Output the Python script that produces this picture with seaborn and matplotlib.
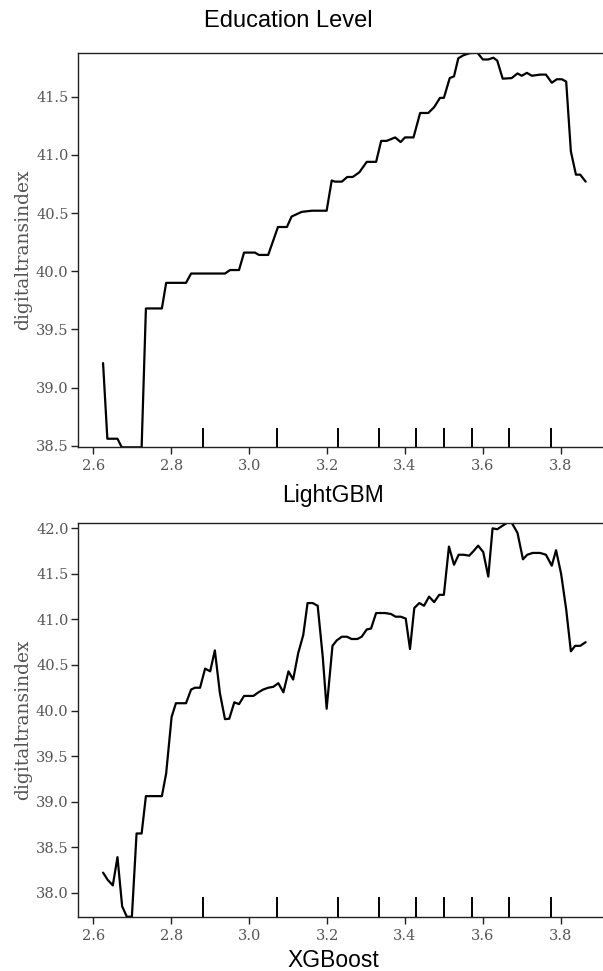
import seaborn as sns
import pandas as pd
import matplotlib.pyplot as plt

# partial dependence of digitaltransindex on education level
lgb_x = [2.625, 2.636, 2.662, 2.673, 2.724, 2.735, 2.776, 2.787, 2.838, 2.851,
         2.938, 2.951, 2.974, 2.987, 3.015, 3.025, 3.049, 3.074, 3.097, 3.109,
         3.135, 3.161, 3.199, 3.212, 3.220, 3.238, 3.252, 3.266, 3.283, 3.302,
         3.326, 3.339, 3.353, 3.375, 3.389, 3.400, 3.422, 3.439, 3.460, 3.475,
         3.490, 3.500, 3.515, 3.526, 3.537, 3.550, 3.567, 3.586, 3.600, 3.614,
         3.627, 3.637, 3.651, 3.674, 3.689, 3.700, 3.713, 3.726, 3.747, 3.762,
         3.777, 3.790, 3.803, 3.814, 3.826, 3.839, 3.850, 3.864]
lgb_y = [39.21, 38.56, 38.56, 38.486, 38.486, 39.68, 39.68, 39.90, 39.90, 39.98,
         39.98, 40.01, 40.01, 40.16, 40.16, 40.14, 40.14, 40.38, 40.38, 40.47,
         40.51, 40.52, 40.52, 40.78, 40.77, 40.77, 40.81, 40.81, 40.85, 40.94,
         40.94, 41.12, 41.12, 41.15, 41.11, 41.15, 41.15, 41.36, 41.36, 41.41,
         41.49, 41.49, 41.66, 41.675, 41.83, 41.856, 41.875, 41.878, 41.82, 41.82,
         41.835, 41.81, 41.655, 41.66, 41.70, 41.68, 41.705, 41.68, 41.69, 41.69,
         41.62, 41.65, 41.65, 41.63, 41.03, 40.83, 40.83, 40.77]

xgb_x = [2.625, 2.637, 2.650, 2.662, 2.674, 2.686, 2.699, 2.711, 2.724, 2.735,
         2.776, 2.787, 2.801, 2.812, 2.838, 2.851, 2.861, 2.874, 2.887, 2.900,
         2.912, 2.925, 2.938, 2.949, 2.962, 2.974, 2.987, 3.011, 3.024, 3.036,
         3.049, 3.062, 3.075, 3.088, 3.101, 3.113, 3.126, 3.139, 3.150, 3.163,
         3.176, 3.189, 3.199, 3.214, 3.225, 3.238, 3.251, 3.263, 3.278, 3.289,
         3.302, 3.313, 3.326, 3.349, 3.364, 3.376, 3.389, 3.402, 3.413, 3.424,
         3.437, 3.449, 3.462, 3.475, 3.488, 3.500, 3.513, 3.526, 3.538, 3.551,
         3.565, 3.576, 3.588, 3.601, 3.614, 3.625, 3.637, 3.651, 3.663, 3.674,
         3.689, 3.703, 3.714, 3.728, 3.747, 3.762, 3.777, 3.788, 3.801, 3.814,
         3.826, 3.837, 3.850, 3.864]
xgb_y = [38.22, 38.14, 38.08, 38.39, 37.85, 37.736, 37.736, 38.65, 38.65, 39.06,
         39.06, 39.31, 39.93, 40.08, 40.08, 40.23, 40.25, 40.25, 40.46, 40.43,
         40.66, 40.19, 39.905, 39.91, 40.09, 40.07, 40.16, 40.16, 40.20, 40.23,
         40.25, 40.26, 40.30, 40.20, 40.43, 40.34, 40.63, 40.83, 41.18, 41.18,
         41.15, 40.59, 40.02, 40.71, 40.77, 40.81, 40.81, 40.785, 40.785, 40.81,
         40.89, 40.90, 41.07, 41.07, 41.06, 41.03, 41.03, 41.01, 40.675, 41.125,
         41.18, 41.15, 41.25, 41.19, 41.27, 41.27, 41.80, 41.60, 41.71, 41.71,
         41.70, 41.75, 41.81, 41.74, 41.47, 42.00, 41.99, 42.03, 42.062, 42.062,
         41.95, 41.66, 41.71, 41.73, 41.73, 41.71, 41.59, 41.76, 41.50, 41.11,
         40.65, 40.71, 40.71, 40.75]

deciles = [2.882, 3.072, 3.228, 3.334, 3.429, 3.501, 3.573, 3.668, 3.775]
xticks = [2.6, 2.8, 3.0, 3.2, 3.4, 3.6, 3.8]
lgb_yticks = [38.5, 39.0, 39.5, 40.0, 40.5, 41.0, 41.5]
xgb_yticks = [38.0, 38.5, 39.0, 39.5, 40.0, 40.5, 41.0, 41.5, 42.0]

sns.set_style("ticks")
plt.rcParams["font.family"] = ["Liberation Sans", "DejaVu Sans"]
plt.rcParams["axes.edgecolor"] = "#222222"
plt.rcParams["axes.linewidth"] = 1.0

fig = plt.figure(figsize=(6.03, 9.71), dpi=100)
ax1 = fig.add_axes([0.1299, 0.5393, 0.8814, 0.4064])
ax2 = fig.add_axes([0.1299, 0.0559, 0.8814, 0.4058])

panels = [(ax1, lgb_x, lgb_y, lgb_yticks, "LightGBM", -0.121),
          (ax2, xgb_x, xgb_y, xgb_yticks, "XGBoost", -0.110)]

serif = "DejaVu Serif"
for ax, x, y, yt, name, ly in panels:
    df = pd.DataFrame({"x": x, "y": y})
    sns.lineplot(data=df, x="x", y="y", ax=ax, color="black", lw=1.6,
                 sort=False, estimator=None)
    ax.vlines(deciles, 0, 0.05, transform=ax.get_xaxis_transform(),
              color="black", lw=1.4)
    ax.set_xlim(2.5615, 3.926)
    ax.set_ylim(min(y), max(y))
    ax.set_xticks(xticks)
    ax.set_xticklabels([f"{v:.1f}" for v in xticks], fontfamily=serif,
                       fontsize=10.5, color="#555555")
    ax.set_yticks(yt)
    ax.set_yticklabels([f"{v:.1f}" for v in yt], fontfamily=serif,
                       fontsize=10.5, color="#555555")
    ax.tick_params(axis="both", direction="out", length=5, width=1.0,
                   color="#222222")
    ax.tick_params(axis="y", pad=2)
    ax.set_ylabel("digitaltransindex", fontfamily=serif, fontsize=13.5,
                  color="#555555")
    ax.yaxis.label.set_va("center")
    ax.yaxis.set_label_coords(-0.104, 0.5)
    ax.set_xlabel(name, fontsize=16.5, color="black")
    ax.xaxis.label.set_va("center")
    ax.xaxis.set_label_coords(0.479, ly)

fig.text(0.4776, 0.978, "Education Level", ha="center", va="center",
         fontsize=17, color="black")

plt.savefig("out.png", dpi=100)
